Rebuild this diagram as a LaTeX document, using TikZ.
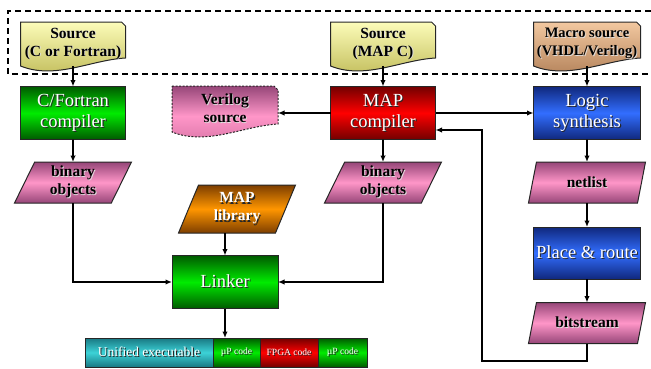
\documentclass[tikz,border=0pt]{standalone}
\usepackage{fontspec}
\setmainfont{Liberation Serif}
\usetikzlibrary{shapes.geometric,arrows.meta,backgrounds,calc}
\definecolor{greenD}{RGB}{0,90,0}
\definecolor{greenM}{RGB}{0,235,0}
\definecolor{redD}{RGB}{115,0,0}
\definecolor{redM}{RGB}{255,0,0}
\definecolor{blueD}{RGB}{16,40,125}
\definecolor{blueM}{RGB}{50,110,255}
\definecolor{orangeD}{RGB}{125,62,0}
\definecolor{orangeM}{RGB}{255,150,0}
\definecolor{cyanD}{RGB}{25,120,130}
\definecolor{cyanM}{RGB}{60,210,215}
\definecolor{yelT}{RGB}{252,252,185}
\definecolor{yelB}{RGB}{190,185,85}
\definecolor{tanT}{RGB}{242,200,160}
\definecolor{tanB}{RGB}{175,125,85}
\definecolor{pinkD}{RGB}{150,70,120}
\definecolor{pinkM}{RGB}{255,150,200}
\definecolor{pinkB}{RGB}{215,115,165}
\newcommand\shw[1]{\makebox[0pt][l]{\kern0.9pt\raisebox{-0.9pt}{\textcolor{white!75!gray}{#1}}}#1}
\newcommand\shk[1]{\makebox[0pt][l]{\kern1.1pt\raisebox{-1.1pt}{\textcolor{black!85}{#1}}}#1}
\newcommand\docshape[2]{\shade[#2] (#1.north west) -- ([xshift=-4pt]#1.north east) -- ([yshift=-4pt]#1.north east) -- ([yshift=8pt]#1.south east) .. controls ([xshift=-35pt,yshift=6pt]#1.south east) and ([xshift=35pt,yshift=-14pt]#1.south west) .. (#1.south west) -- cycle;}
\tikzset{
  outl/.style={draw=black!85, line width=1pt},
  box/.style={outl, align=center, inner sep=1pt, outer sep=0pt, minimum width=105, minimum height=53, text=white, font=\fontsize{18.5}{21}\selectfont},
  gbox/.style={box, top color=greenD, bottom color=greenD, middle color=greenM},
  rbox/.style={box, top color=redD, bottom color=redD, middle color=redM},
  bbox/.style={box, top color=blueD, bottom color=blueD, middle color=blueM},
  doc/.style={align=center, inner sep=0pt, outer sep=0pt, minimum width=105, minimum height=44, font=\bfseries\fontsize{15.5}{18}\selectfont},
  para/.style={outl, trapezium, trapezium left angle=60, trapezium right angle=120, trapezium stretches body=true, minimum width=117, minimum height=41, inner sep=1pt, outer sep=0pt, align=center, font=\bfseries\fontsize{15.5}{18}\selectfont},
  ppara/.style={para, top color=pinkD, bottom color=pinkD, middle color=pinkM},
  cell/.style={outl, minimum height=29, inner sep=0pt, outer sep=0pt, text=white},
  arr/.style={-{Latex[length=6.5pt,width=5.5pt]}, line width=1.6pt},
  dashbox/.style={line width=1.5pt, dash pattern=on 6pt off 4pt}
}
\begin{document}
\begin{tikzpicture}[x=1pt,y=-1pt]
\useasboundingbox (0,0) rectangle (651,368);
\draw[dashbox] (651,11) -- (8,11) -- (8,74) -- (651,74);

% sources
\node[doc] (src1) at (73,44) {\shw{Source}\\\shw{(C or Fortran)}};
\node[doc] (src2) at (383,44) {\shw{Source}\\\shw{(MAP C)}};
\node[doc, minimum width=107, font=\bfseries\fontsize{14.5}{18}\selectfont] (src3) at (587,44) {\shw{Macro source}\\\shw{(VHDL/Verilog)}};
\node[doc, minimum width=106, minimum height=46] (vsrc) at (225,109) {\shw{Verilog}\\\shw{source}};
\begin{scope}[on background layer]
\docshape{src1}{outl, top color=yelT, bottom color=yelB}
\docshape{src2}{outl, top color=yelT, bottom color=yelB}
\docshape{src3}{outl, top color=tanT, bottom color=tanB}
\docshape{vsrc}{draw=black!85, line width=1pt, dash pattern=on 2pt off 1.5pt, top color=pinkD, bottom color=pinkB, middle color=pinkM}
\end{scope}

% compilers
\node[gbox] (cfc) at (73,113) {\shk{C/Fortran}\\\shk{compiler}};
\node[rbox] (mapc) at (383,113) {\shk{MAP}\\\shk{compiler}};
\node[bbox, minimum width=107] (logic) at (587,113) {\shk{Logic}\\\shk{synthesis}};

% parallelograms
\node[ppara] (bin1) at (73,182.5) {\shw{binary}\\\shw{objects}};
\node[ppara] (bin2) at (383,182.5) {\shw{binary}\\\shw{objects}};
\node[ppara] (net) at (587,182.5) {\shw{netlist}};
\node[para, minimum height=48, top color=orangeD, bottom color=orangeD, middle color=orangeM, text=white] (maplib) at (237,209) {\shk{MAP}\\\shk{library}};
\node[ppara] (bits) at (587,323) {\shw{bitstream}};

\node[gbox, minimum width=106] (linker) at (225,282) {\shk{Linker}};
\node[bbox, minimum width=107, minimum height=52] (pr) at (587,253) {\shk{Place \& route}};

% executable bar
\node[cell, minimum width=128, top color=cyanD, bottom color=cyanD, middle color=cyanM, font=\fontsize{13.5}{15}\selectfont] (ue) at (149,352.5) {\shk{Unified executable}};
\node[cell, minimum width=47, top color=greenD, bottom color=greenD, middle color=greenM, font=\fontsize{9.5}{11}\selectfont] (up1) at (236.5,352.5) {\shk{µP code}};
\node[cell, minimum width=58, top color=redD, bottom color=redD, middle color=redM, font=\fontsize{9.5}{11}\selectfont] (fpga) at (289,352.5) {\shk{FPGA code}};
\node[cell, minimum width=49, top color=greenD, bottom color=greenD, middle color=greenM, font=\fontsize{9.5}{11}\selectfont] (up2) at (342.5,352.5) {\shk{µP code}};

% connectors
\draw[arr] (src1.south) -- (cfc.north);
\draw[arr] (src2.south) -- (mapc.north);
\draw[arr] (src3.south) -- (logic.north);
\draw[arr] (mapc.west) -- (mapc.west -| vsrc.east);
\draw[arr] (mapc.east) -- (logic.west);
\draw[arr] (cfc.south) -- (bin1.north);
\draw[arr] (mapc.south) -- (bin2.north);
\draw[arr] (logic.south) -- (net.north);
\draw[arr] (net.south) -- (pr.north);
\draw[arr] (pr.south) -- (bits.north);
\draw[arr] (bin1.south) |- (linker.west);
\draw[arr] (bin2.south) |- (linker.east);
\draw[arr] (linker.north |- maplib.south) -- (linker.north);
\draw[arr] (linker.south) -- (linker.south |- up1.north);
\coordinate (fb) at (482,361);
\coordinate (mapin) at ([yshift=-17pt]mapc.east);
\draw[arr] (bits.south) |- (fb) |- (mapin);
\end{tikzpicture}
\end{document}
